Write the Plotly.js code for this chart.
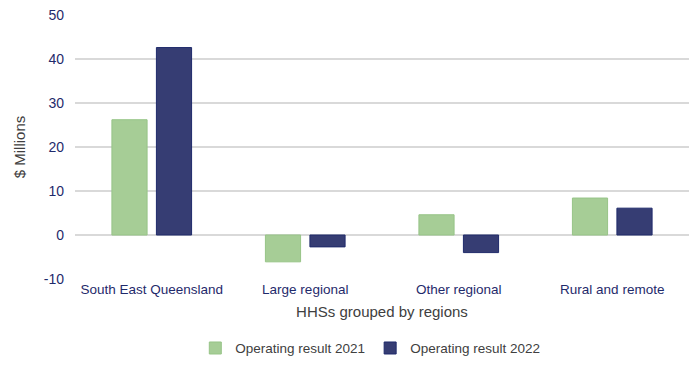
<!DOCTYPE html>
<html><head><meta charset="utf-8">
<script src="https://cdn.plot.ly/plotly-3.0.1.min.js"></script>
<style>body{margin:0;background:#fff}#c{width:700px;height:365px}</style>
</head><body><div id="c"></div>
<script>
const categories = ["South East Queensland", "Large regional", "Other regional", "Rural and remote"];
const result2021 = [26.2, -6.1, 4.6, 8.4];
const result2022 = [42.6, -2.7, -4.0, 6.1];
const seriesNames = ["Operating result 2021", "Operating result 2022"];
const yTicks = [-10, 0, 10, 20, 30, 40, 50];

const font = "Liberation Sans, Arial, sans-serif";
const traces = [
  {type: "bar", name: seriesNames[0], x: categories, y: result2021,
   marker: {color: "#a6cd96", line: {color: "#97c487", width: 1}}},
  {type: "bar", name: seriesNames[1], x: categories, y: result2022,
   marker: {color: "#363d73", line: {color: "#1f2a6b", width: 1}}}
];
const layout = {
  width: 700, height: 365,
  margin: {l: 75, r: 11, t: 15, b: 86, autoexpand: false},
  paper_bgcolor: "#fff", plot_bgcolor: "#fff",
  barmode: "group", bargap: 0.42, bargroupgap: 0.21,
  font: {family: font, size: 13, color: "#404040"},
  xaxis: {
    tickfont: {family: font, size: 13.5, color: "#1f2a6b"},
    title: {text: "HHSs grouped by regions", font: {family: font, size: 15, color: "#404040"}, standoff: 10},
    showline: false, zeroline: false, ticks: ""
  },
  yaxis: {
    range: [-10, 50], tickvals: yTicks, ticktext: yTicks.map(String),
    tickfont: {family: font, size: 14, color: "#1f2a6b"},
    gridcolor: "#d9d9d9", gridwidth: 1.5,
    zeroline: true, zerolinecolor: "#d9d9d9", zerolinewidth: 1.5,
    ticks: "", ticklen: 0, ticklabelstandoff: 10,
    title: {text: "$ Millions", font: {family: font, size: 15, color: "#404040"}, standoff: 14}
  },
  legend: {orientation: "h", x: 0.529, xref: "container", xanchor: "center",
    y: 0.046, yref: "container", yanchor: "middle",
    font: {family: font, size: 13.5, color: "#404040"}, itemwidth: 30, tracegroupgap: 0},
  showlegend: true
};
Plotly.newPlot("c", traces, layout, {displayModeBar: false, staticPlot: true});
</script></body></html>
